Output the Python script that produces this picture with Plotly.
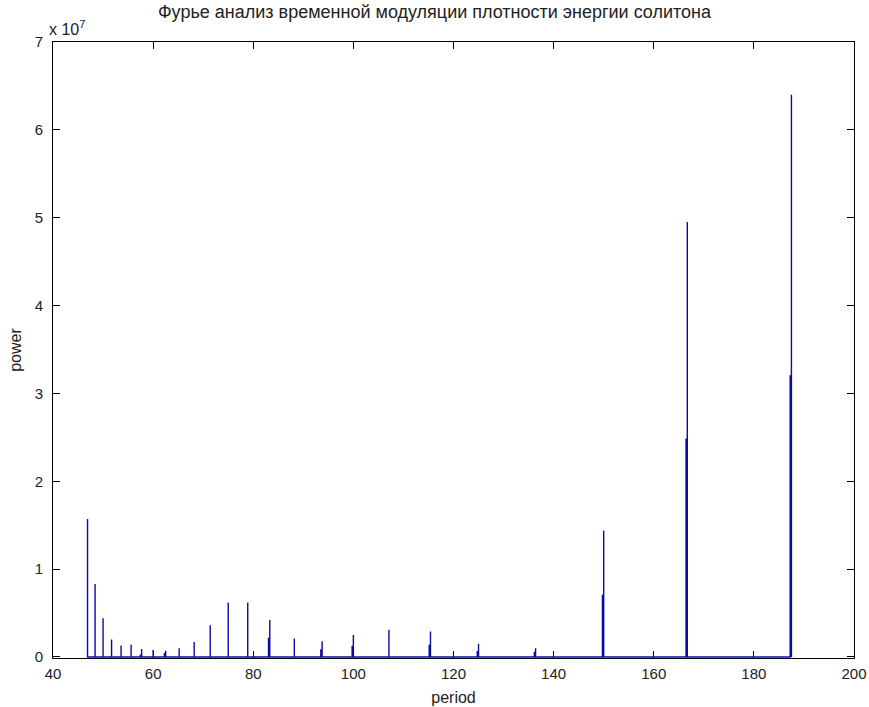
import plotly.graph_objects as go

# Spectral peaks (period, power in units of 1e7)
periods = [46.9, 48.4, 50.0, 51.7, 53.6, 55.6, 57.7, 60.0, 62.5, 65.2, 68.2, 71.4,
           75.0, 78.9, 83.3, 88.2, 93.75, 100.0, 107.1, 115.4, 125.0, 136.4,
           150.0, 166.7, 187.5]
peak_power = [1.57, 0.83, 0.44, 0.20, 0.13, 0.14, 0.09, 0.08, 0.07, 0.10, 0.17, 0.36,
              0.62, 0.62, 0.42, 0.21, 0.18, 0.25, 0.31, 0.29, 0.15, 0.10,
              1.44, 4.95, 6.40]
shoulder_power = [0.0, 0.0, 0.0, 0.0, 0.0, 0.0, 0.02, 0.0, 0.04, 0.0, 0.0, 0.0,
                  0.0, 0.0, 0.21, 0.0, 0.08, 0.12, 0.0, 0.13, 0.06, 0.05,
                  0.70, 2.48, 3.20]
scale = 1e7

y_tickvals = [0, 1, 2, 3, 4, 5, 6, 7]
x_tickvals = [40, 60, 80, 100, 120, 140, 160, 180, 200]

# build the spectrum polyline (baseline at zero with narrow spikes)
dx = 0.25
xs, ys = [], []
for p, h, s in zip(periods, peak_power, shoulder_power):
    if s > 0:
        xs += [p - dx, p - dx, p, p, p]
        ys += [0, s * scale, s * scale, h * scale, 0]
    else:
        xs += [p, p, p]
        ys += [0, h * scale, 0]

line_color = "#0a0aa8"
font_family = "Liberation Sans, Arial, sans-serif"
text_color = "#222222"

fig = go.Figure()
fig.add_trace(go.Scatter(x=xs, y=ys, mode="lines",
                         line=dict(color=line_color, width=1.4),
                         hoverinfo="skip", showlegend=False))

fig.update_layout(
    width=869, height=707,
    paper_bgcolor="white", plot_bgcolor="white",
    margin=dict(l=53, r=15, t=42, b=49, autoexpand=False),
    title=dict(text="Фурье анализ временной модуляции плотности энергии солитона",
               x=0.5, xanchor="center", y=1 - 12 / 707, yanchor="middle",
               font=dict(family=font_family, size=18, color=text_color)),
    font=dict(family=font_family, size=15, color=text_color),
    showlegend=False,
)
fig.update_xaxes(range=[40, 200], tickvals=x_tickvals, automargin=False,
                 ticks="inside", ticklen=7, tickcolor="black", tickwidth=1,
                 showline=True, linecolor="black", linewidth=1, mirror="ticks",
                 showgrid=False, zeroline=False, layer="below traces",
                 tickfont=dict(size=15, color=text_color), ticklabelstandoff=2,
                 title=dict(text="period", font=dict(size=16, color=text_color), standoff=10))
fig.update_yaxes(range=[-0.012 * scale, 7 * scale], tickvals=[v * scale for v in y_tickvals],
                 ticktext=[str(v) for v in y_tickvals], automargin=False,
                 ticks="inside", ticklen=7, tickcolor="black", tickwidth=1,
                 showline=True, linecolor="black", linewidth=1, mirror="ticks",
                 showgrid=False, zeroline=False, layer="below traces",
                 tickfont=dict(size=15, color=text_color), ticklabelstandoff=6,
                 title=dict(text="power", font=dict(size=16, color=text_color), standoff=9))

fig.add_annotation(text="x 10<sup>7</sup>", xref="paper", yref="paper",
                   x=0, y=1, xanchor="left", yanchor="bottom", yshift=2, xshift=-6,
                   showarrow=False, font=dict(family=font_family, size=16, color=text_color))

fig.write_html("out.html")
